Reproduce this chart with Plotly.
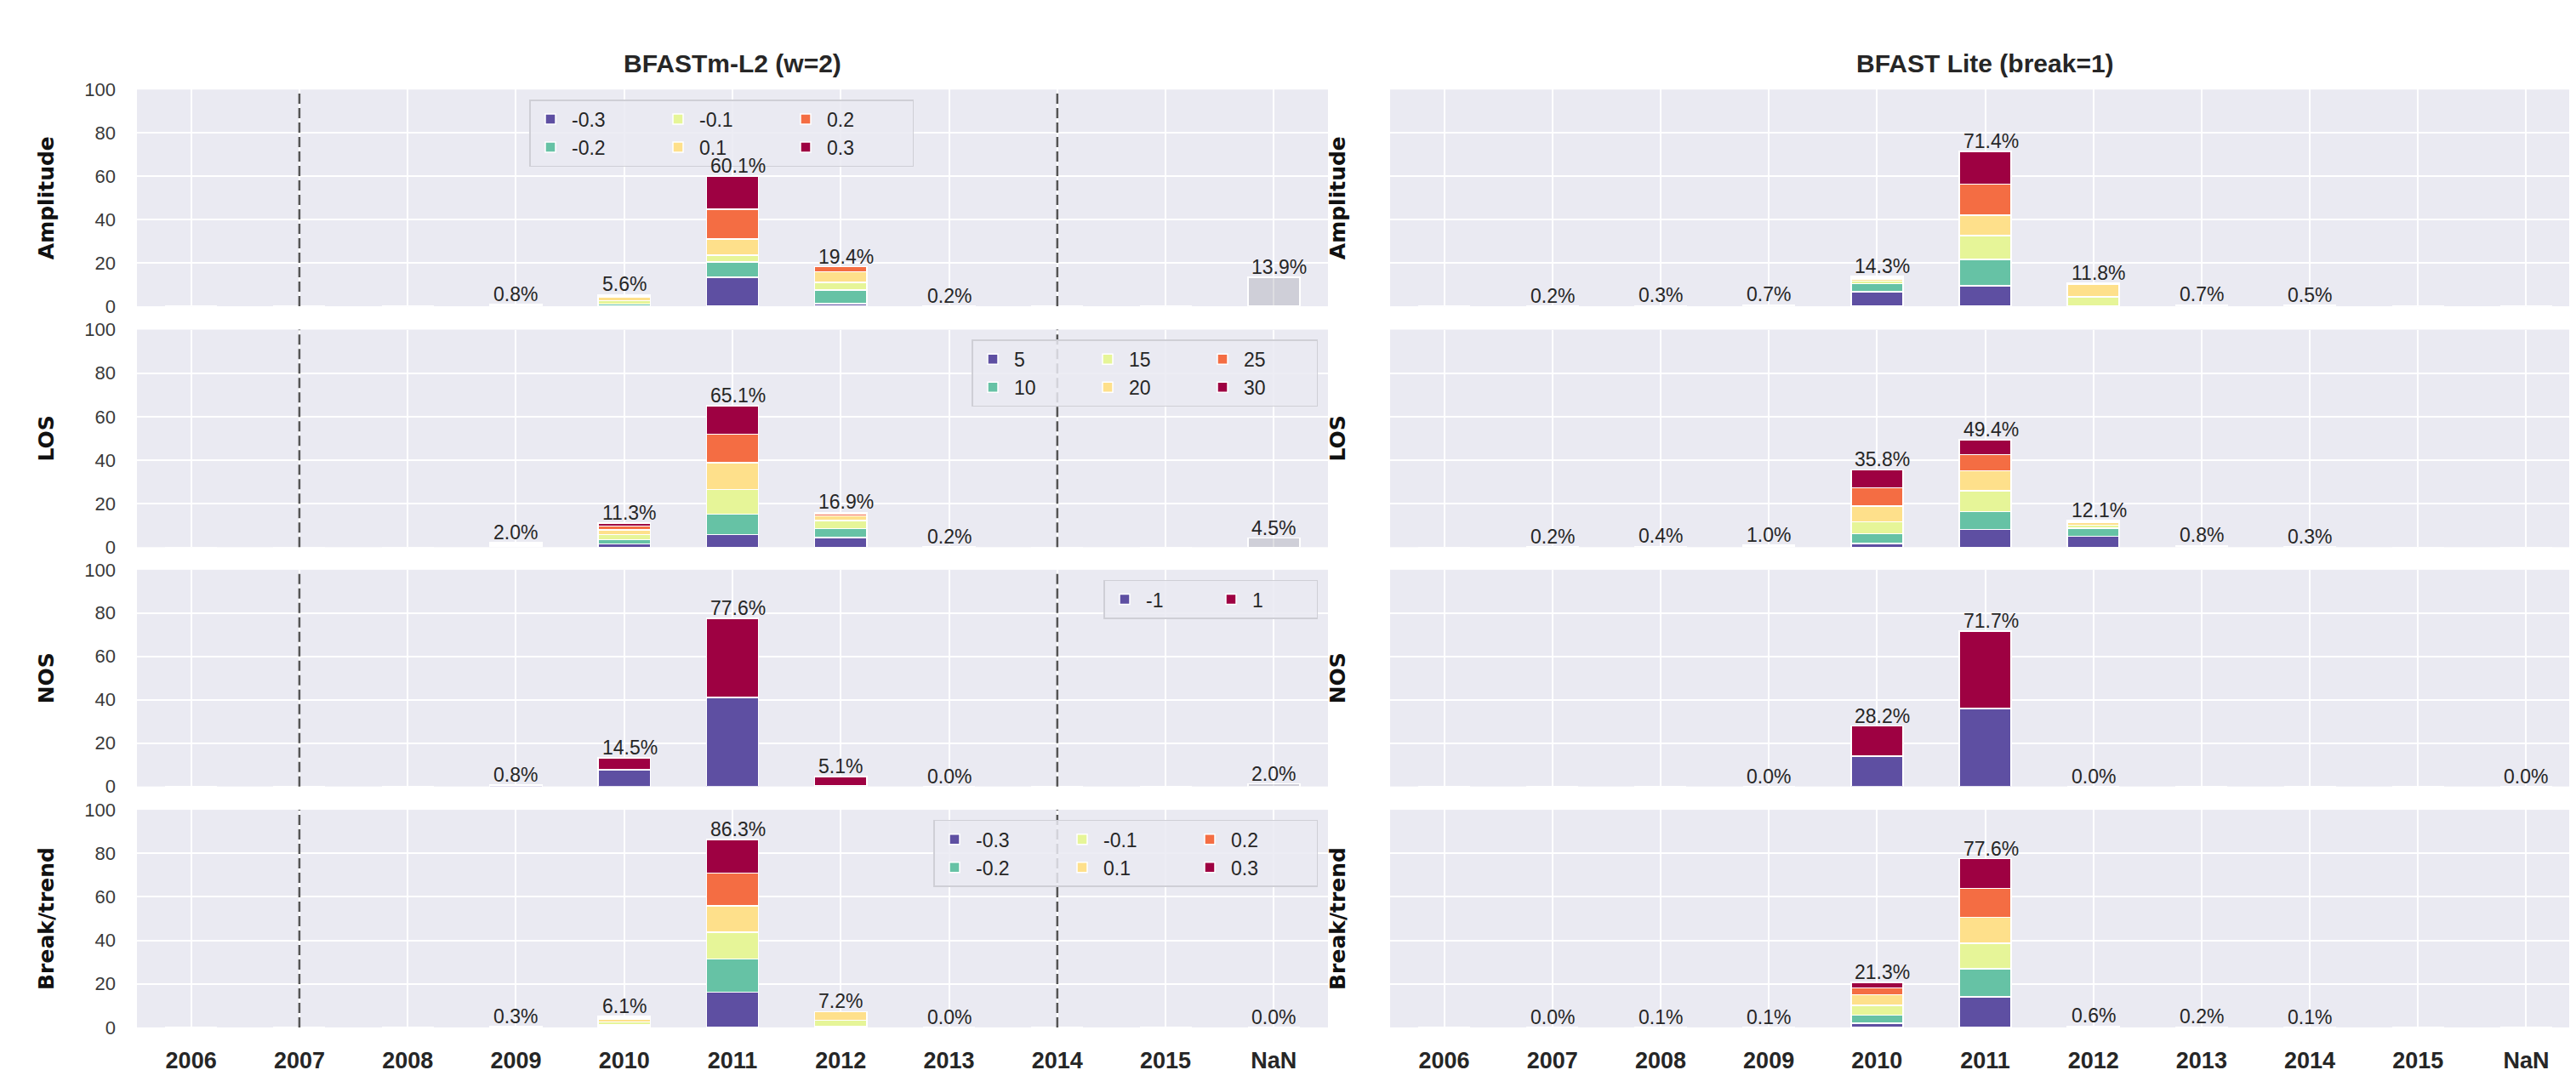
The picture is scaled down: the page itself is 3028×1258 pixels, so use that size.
import plotly.graph_objects as go

# ---------------- data ----------------
categories = ["2006", "2007", "2008", "2009", "2010", "2011", "2012", "2013", "2014", "2015", "NaN"]
col_titles = ["BFASTm-L2 (w=2)", "BFAST Lite (break=1)"]
row_titles = ["Amplitude", "LOS", "NOS", "Break/trend"]
change_levels = ["-0.3", "-0.2", "-0.1", "0.1", "0.2", "0.3"]
los_levels = ["5", "10", "15", "20", "25", "30"]
nos_levels = ["-1", "1"]
dashed_years = ["2007", "2014"]

# BFASTm-L2 (w=2) : Amplitude
bm_amp_m03 = [0, 0, 0, 0.1, 0.3, 13.3, 1.2, 0, 0, 0, 0]
bm_amp_m02 = [0, 0, 0, 0.2, 0.8, 7.1, 6.3, 0.1, 0, 0, 0]
bm_amp_m01 = [0, 0, 0, 0.3, 1.5, 3.2, 3.5, 0.1, 0, 0, 0]
bm_amp_p01 = [0, 0, 0, 0.2, 1.8, 7.5, 5.0, 0, 0, 0, 0]
bm_amp_p02 = [0, 0, 0, 0, 0.6, 13.6, 2.2, 0, 0, 0, 0]
bm_amp_p03 = [0, 0, 0, 0, 0.4, 15.4, 0, 0, 0, 0, 0]
bm_amp_nan = [0, 0, 0, 0, 0, 0, 0, 0, 0, 0, 13.4]
bm_amp_lbl = ["", "", "", "0.8%", "5.6%", "60.1%", "19.4%", "0.2%", "", "", "13.9%"]

# BFASTm-L2 (w=2) : LOS
bm_los_05 = [0, 0, 0, 0.4, 1.5, 5.9, 4.5, 0, 0, 0, 0]
bm_los_10 = [0, 0, 0, 0.4, 2.0, 9.2, 4.0, 0.1, 0, 0, 0]
bm_los_15 = [0, 0, 0, 0.4, 2.3, 11.5, 3.7, 0.1, 0, 0, 0]
bm_los_20 = [0, 0, 0, 0.4, 2.2, 12.2, 2.3, 0, 0, 0, 0]
bm_los_25 = [0, 0, 0, 0.2, 1.7, 13.2, 0.9, 0, 0, 0, 0]
bm_los_30 = [0, 0, 0, 0.2, 1.3, 13.1, 0.6, 0, 0, 0, 0]
bm_los_nan = [0, 0, 0, 0, 0, 0, 0, 0, 0, 0, 4.2]
bm_los_lbl = ["", "", "", "2.0%", "11.3%", "65.1%", "16.9%", "0.2%", "", "", "4.5%"]

# BFASTm-L2 (w=2) : NOS
bm_nos_m1 = [0, 0, 0, 0.4, 7.7, 41.0, 0.3, 0, 0, 0, 0]
bm_nos_p1 = [0, 0, 0, 0.4, 5.5, 36.6, 4.2, 0, 0, 0, 0]
bm_nos_nan = [0, 0, 0, 0, 0, 0, 0, 0, 0, 0, 1.2]
bm_nos_lbl = ["", "", "", "0.8%", "14.5%", "77.6%", "5.1%", "0.0%", "", "", "2.0%"]

# BFASTm-L2 (w=2) : Break/trend
bm_bt_m03 = [0, 0, 0, 0.1, 0.3, 16.2, 0.1, 0, 0, 0, 0]
bm_bt_m02 = [0, 0, 0, 0.1, 0.9, 15.3, 0.2, 0, 0, 0, 0]
bm_bt_m01 = [0, 0, 0, 0.1, 1.3, 12.2, 2.9, 0, 0, 0, 0]
bm_bt_p01 = [0, 0, 0, 0, 1.3, 12.2, 4.0, 0, 0, 0, 0]
bm_bt_p02 = [0, 0, 0, 0, 0.9, 15.0, 0, 0, 0, 0, 0]
bm_bt_p03 = [0, 0, 0, 0, 0.4, 15.4, 0, 0, 0, 0, 0]
bm_bt_nan = [0, 0, 0, 0, 0, 0, 0, 0, 0, 0, 0]
bm_bt_lbl = ["", "", "", "0.3%", "6.1%", "86.3%", "7.2%", "0.0%", "", "", "0.0%"]

# BFAST Lite (break=1) : Amplitude
bl_amp_m03 = [0, 0, 0, 0.1, 6.7, 9.5, 0.1, 0.1, 0.1, 0, 0]
bl_amp_m02 = [0, 0.1, 0.1, 0.2, 3.8, 12.2, 0.2, 0.2, 0.1, 0, 0]
bl_amp_m01 = [0, 0.1, 0.1, 0.2, 1.2, 10.9, 4.0, 0.2, 0.1, 0, 0]
bl_amp_p01 = [0, 0, 0.1, 0.1, 0.9, 9.4, 5.9, 0.1, 0.1, 0, 0]
bl_amp_p02 = [0, 0, 0, 0.1, 0.6, 14.4, 0.6, 0.1, 0.1, 0, 0]
bl_amp_p03 = [0, 0, 0, 0, 0.5, 15.0, 0, 0, 0, 0, 0]
bl_amp_nan = [0, 0, 0, 0, 0, 0, 0, 0, 0, 0, 0]
bl_amp_lbl = ["", "0.2%", "0.3%", "0.7%", "14.3%", "71.4%", "11.8%", "0.7%", "0.5%", "", ""]

# BFAST Lite (break=1) : LOS
bl_los_05 = [0, 0, 0.1, 0.2, 1.7, 8.1, 5.1, 0.2, 0.1, 0, 0]
bl_los_10 = [0, 0.1, 0.1, 0.2, 4.5, 8.3, 3.6, 0.2, 0.1, 0, 0]
bl_los_15 = [0, 0.1, 0.1, 0.2, 5.5, 9.6, 1.5, 0.2, 0.1, 0, 0]
bl_los_20 = [0, 0, 0.1, 0.2, 7.3, 9.2, 1.0, 0.1, 0, 0, 0]
bl_los_25 = [0, 0, 0, 0.1, 8.3, 7.4, 0.6, 0.1, 0, 0, 0]
bl_los_30 = [0, 0, 0, 0.1, 8.3, 6.7, 0.5, 0, 0, 0, 0]
bl_los_nan = [0, 0, 0, 0, 0, 0, 0, 0, 0, 0, 0]
bl_los_lbl = ["", "0.2%", "0.4%", "1.0%", "35.8%", "49.4%", "12.1%", "0.8%", "0.3%", "", ""]

# BFAST Lite (break=1) : NOS
bl_nos_m1 = [0, 0, 0, 0, 13.9, 36.0, 0, 0, 0, 0, 0]
bl_nos_p1 = [0, 0, 0, 0, 14.0, 35.7, 0, 0, 0, 0, 0]
bl_nos_nan = [0, 0, 0, 0, 0, 0, 0, 0, 0, 0, 0]
bl_nos_lbl = ["", "", "", "0.0%", "28.2%", "71.7%", "0.0%", "", "", "", "0.0%"]

# BFAST Lite (break=1) : Break/trend
bl_bt_m03 = [0, 0, 0, 0, 2.0, 14.0, 0.1, 0.1, 0, 0, 0]
bl_bt_m02 = [0, 0, 0, 0.1, 3.7, 12.9, 0.1, 0, 0.1, 0, 0]
bl_bt_m01 = [0, 0, 0.1, 0, 4.4, 11.7, 0.2, 0.1, 0, 0, 0]
bl_bt_p01 = [0, 0, 0, 0, 5.0, 12.0, 0.2, 0, 0, 0, 0]
bl_bt_p02 = [0, 0, 0, 0, 3.1, 13.3, 0, 0, 0, 0, 0]
bl_bt_p03 = [0, 0, 0, 0, 2.5, 13.6, 0, 0, 0, 0, 0]
bl_bt_nan = [0, 0, 0, 0, 0, 0, 0, 0, 0, 0, 0]
bl_bt_lbl = ["", "0.0%", "0.1%", "0.1%", "21.3%", "77.6%", "0.6%", "0.2%", "0.1%", "", ""]

# ---------------- styling ----------------
six_colors = ["#5e4fa2", "#66c2a5", "#e6f598", "#fee08b", "#f46d43", "#9e0142"]
two_colors = ["#5e4fa2", "#9e0142"]
nan_color = "rgba(150,150,162,0.32)"
bg = "#eaeaf2"
txt = "#262626"
W, H = 3028, 1258

x_domains = [[153 / W, 1553 / W], [1626 / W, 3025 / W]]
y_px = [(87, 347), (375, 636), (663, 923), (951, 1212)]
y_domains = [[1 - b / H, 1 - t / H] for t, b in y_px]

panels = {
    (0, 0): (change_levels, six_colors, [bm_amp_m03, bm_amp_m02, bm_amp_m01, bm_amp_p01, bm_amp_p02, bm_amp_p03], bm_amp_nan, bm_amp_lbl),
    (1, 0): (los_levels, six_colors, [bm_los_05, bm_los_10, bm_los_15, bm_los_20, bm_los_25, bm_los_30], bm_los_nan, bm_los_lbl),
    (2, 0): (nos_levels, two_colors, [bm_nos_m1, bm_nos_p1], bm_nos_nan, bm_nos_lbl),
    (3, 0): (change_levels, six_colors, [bm_bt_m03, bm_bt_m02, bm_bt_m01, bm_bt_p01, bm_bt_p02, bm_bt_p03], bm_bt_nan, bm_bt_lbl),
    (0, 1): (change_levels, six_colors, [bl_amp_m03, bl_amp_m02, bl_amp_m01, bl_amp_p01, bl_amp_p02, bl_amp_p03], bl_amp_nan, bl_amp_lbl),
    (1, 1): (los_levels, six_colors, [bl_los_05, bl_los_10, bl_los_15, bl_los_20, bl_los_25, bl_los_30], bl_los_nan, bl_los_lbl),
    (2, 1): (nos_levels, two_colors, [bl_nos_m1, bl_nos_p1], bl_nos_nan, bl_nos_lbl),
    (3, 1): (change_levels, six_colors, [bl_bt_m03, bl_bt_m02, bl_bt_m01, bl_bt_p01, bl_bt_p02, bl_bt_p03], bl_bt_nan, bl_bt_lbl),
}

legend_ids = ["legend", "legend2", "legend3", "legend4"]
# (anchor, x px, y px)
legend_pos = [("left", 614, 99), ("right", 1541, 387), ("right", 1541, 675), ("right", 1541, 963)]
legend_entry = [95, 80, 70, 95]

fig = go.Figure()
annotations = []
shapes = []
layout = {}

for (r, c), (levels, colors, series, nan_vals, labels) in panels.items():
    idx = r * 2 + c + 1
    xa = "x" if idx == 1 else f"x{idx}"
    ya = "y" if idx == 1 else f"y{idx}"
    for i, (lev, col, vals) in enumerate(zip(levels, colors, series)):
        grp = i // 2 if len(levels) == 6 else i
        fig.add_trace(go.Bar(
            x=categories, y=vals, name=lev, xaxis=xa, yaxis=ya,
            marker=dict(color=col, line=dict(color="white", width=1.5)),
            width=0.48, showlegend=(c == 0), legend=legend_ids[r],
            legendgroup=f"r{r}c{c}g{grp}",
        ))
    fig.add_trace(go.Bar(
        x=categories, y=nan_vals, name="NaN", xaxis=xa, yaxis=ya,
        marker=dict(color=nan_color, line=dict(color="white", width=1.5)),
        width=0.48, showlegend=False,
    ))
    # value labels
    for j, lbl in enumerate(labels):
        if lbl:
            total = sum(s[j] for s in series) + nan_vals[j]
            annotations.append(dict(
                x=j - 0.22, y=total, xref=xa, yref=ya, text=lbl, showarrow=False,
                xanchor="left", yanchor="bottom", yshift=-3,
                font=dict(family="Liberation Sans, Arial", size=23, color=txt)))
    # dashed lines (left column)
    if c == 0:
        for yr in dashed_years:
            k = categories.index(yr)
            shapes.append(dict(type="line", xref=xa, yref=f"{ya} domain",
                               x0=k, x1=k, y0=0, y1=1, layer="above",
                               line=dict(color="#555555", width=2.5, dash="12px,5px")))
    xkey = "xaxis" if idx == 1 else f"xaxis{idx}"
    ykey = "yaxis" if idx == 1 else f"yaxis{idx}"
    layout[xkey] = dict(
        domain=x_domains[c], anchor=ya, type="category",
        categoryorder="array", categoryarray=categories, range=[-0.5, 10.5],
        showgrid=True, gridcolor="white", gridwidth=2, zeroline=False, showline=False,
        showticklabels=(r == 3), ticks="", ticklabelstandoff=20,
        tickfont=dict(family="Liberation Sans, Arial", size=27, color=txt, weight="bold"),
    )
    layout[ykey] = dict(
        domain=y_domains[r], anchor=xa, range=[0, 100],
        tickvals=[0, 20, 40, 60, 80, 100],
        showgrid=True, gridcolor="white", gridwidth=2, zeroline=False, showline=False,
        showticklabels=(c == 0), ticks="", ticklabelstandoff=24,
        tickfont=dict(family="Liberation Sans, Arial", size=22, color="#3a3a3a"),
        title=dict(text=row_titles[r], standoff=(28 if c == 0 else 44),
                   font=dict(family="DejaVu Sans", size=25, color="#111111", weight="bold")),
    )

for ci, t in enumerate(col_titles):
    annotations.append(dict(
        x=(x_domains[ci][0] + x_domains[ci][1]) / 2, y=1 - 56 / H, xref="paper", yref="paper",
        text=t, showarrow=False, xanchor="center", yanchor="middle",
        font=dict(family="Liberation Sans, Arial", size=30, color=txt, weight="bold")))

for k, lid in enumerate(legend_ids):
    anchor, lx, ly = legend_pos[k]
    layout[lid] = dict(
        x=lx / W, y=1 - ly / H, xanchor=anchor, yanchor="top", xref="paper", yref="paper",
        orientation="h", traceorder="grouped", tracegroupgap=0,
        bgcolor="rgba(234,234,242,0.85)", bordercolor="#cfcfd6", borderwidth=1.5,
        font=dict(family="Liberation Sans, Arial", size=23, color=txt),
        itemwidth=40, entrywidth=legend_entry[k],
    )

fig.update_layout(
    width=W, height=H, barmode="stack", paper_bgcolor="white", plot_bgcolor=bg,
    margin=dict(l=0, r=0, t=0, b=0), bargap=0.52,
    annotations=annotations, shapes=shapes, **layout,
)

fig.write_html("out.html")
